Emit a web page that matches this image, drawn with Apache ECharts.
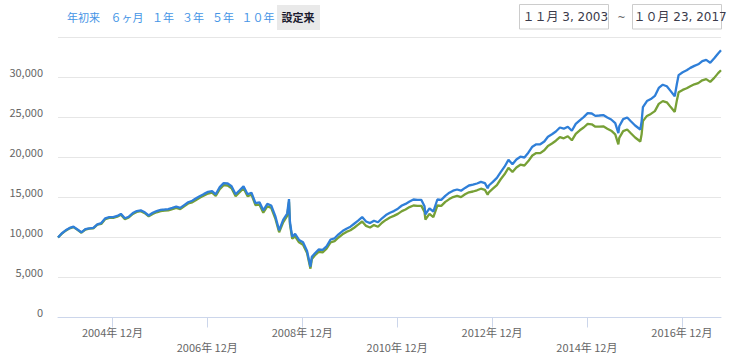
<!DOCTYPE html>
<html>
<head>
<meta charset="utf-8">
<script src="https://cdn.jsdelivr.net/npm/echarts@6/dist/echarts.min.js"></script>
<style>
html,body{margin:0;padding:0;background:#fff;}
#chart{width:735px;height:363px;}
</style>
</head>
<body>
<div id="chart"></div>
<script>
// ---- data ----
const dates = [
'2003-11-03','2003-12','2004-01','2004-02','2004-03','2004-04','2004-05','2004-06','2004-07','2004-08','2004-09','2004-10','2004-11','2004-12',
'2005-01','2005-02','2005-03','2005-04','2005-05','2005-06','2005-07','2005-08','2005-09','2005-10','2005-11','2005-12',
'2006-01','2006-02','2006-03','2006-04','2006-05','2006-06','2006-07','2006-08','2006-09','2006-10','2006-11','2006-12',
'2007-01','2007-02','2007-03','2007-04','2007-05','2007-06','2007-07','2007-08','2007-09','2007-10','2007-11','2007-12',
'2008-01','2008-02','2008-03','2008-04','2008-05','2008-06','2008-07','2008-08','2008-09','2008-09-15','2008-09-22','2008-10','2008-10-10','2008-11','2008-12',
'2009-01','2009-02','2009-02-27','2009-03-10','2009-04','2009-05','2009-06','2009-07','2009-08','2009-09','2009-10','2009-11','2009-12',
'2010-01','2010-02','2010-03','2010-04','2010-05','2010-06','2010-07','2010-08','2010-09','2010-10','2010-11','2010-12',
'2011-01','2011-02','2011-03','2011-04','2011-05','2011-06','2011-07','2011-07-25','2011-08','2011-09','2011-10','2011-11','2011-12',
'2012-01','2012-02','2012-03','2012-04','2012-05','2012-06','2012-07','2012-08','2012-09','2012-10','2012-11','2012-11-22','2012-12',
'2013-01','2013-02','2013-03','2013-04','2013-05','2013-06','2013-07','2013-08','2013-09','2013-10','2013-11','2013-12',
'2014-01','2014-02','2014-03','2014-04','2014-05','2014-06','2014-07','2014-08','2014-09','2014-10','2014-11','2014-12',
'2015-01','2015-02','2015-03','2015-04','2015-05','2015-06','2015-07','2015-08','2015-08-25','2015-09','2015-10','2015-11','2015-12',
'2016-01','2016-02-10','2016-02-20','2016-03','2016-04','2016-05','2016-06','2016-07','2016-08','2016-09','2016-10','2016-11','2016-11-18','2016-12',
'2017-01','2017-02','2017-03','2017-04','2017-05','2017-06','2017-07','2017-08','2017-09','2017-10','2017-10-23'
];
const fundValues = [
10000,10500,10900,11200,11350,11000,10650,11050,11150,11200,11650,11800,12400,12550,
12550,12700,12950,12400,12600,13050,13300,13400,13150,12750,13100,13300,
13450,13500,13550,13700,13850,13700,14050,14400,14600,14900,15200,15450,
15700,15800,15400,16300,16800,16750,16400,15400,15900,16400,15400,15600,
14300,14400,13400,14200,14000,12700,10900,12200,13000,14800,12000,11000,10100,10450,9700,
9400,8300,6350,7600,8000,8500,8450,8900,9750,9900,10400,10800,11100,
11350,11750,12100,12550,12000,11800,12100,11900,12400,12800,13100,13300,
13600,14000,14200,14500,14750,14700,14700,13900,12900,13650,13250,14750,14700,
15200,15600,15850,16000,15850,16200,16500,16600,16750,16950,16800,16150,16500,
16950,17450,18150,18850,19700,19150,19750,20100,20000,20600,21350,21650,
21650,22000,22600,22900,23250,23750,23600,23850,23350,24200,24650,25050,
25550,25500,25200,25250,25300,25000,24750,24300,23050,23900,24800,25000,24500,
24000,23500,24500,26300,27050,27300,27700,28700,29100,28900,28300,27650,29250,30300,
30650,30900,31200,31450,31650,32050,32200,31850,32400,33000,33400
];
const benchmarkValues = [
10000,10450,10850,11150,11300,10950,10600,11000,11100,11150,11600,11700,12300,12450,
12450,12600,12850,12300,12500,12950,13200,13300,13050,12650,12950,13150,
13300,13350,13400,13550,13700,13550,13900,14250,14400,14700,15000,15250,
15500,15600,15200,16050,16550,16500,16150,15150,15650,16150,15150,15350,
14050,14100,13100,13900,13700,12400,10650,11900,12700,14450,11700,10750,9850,10150,9400,
9100,8050,6100,7300,7750,8200,8150,8600,9400,9550,10000,10400,10700,
10900,11250,11600,12000,11450,11250,11550,11350,11850,12200,12500,12700,
12950,13300,13500,13800,14000,13950,13950,13200,12250,12950,12550,14000,13950,
14450,14800,15050,15200,15050,15400,15650,15750,15900,16100,15950,15350,15650,
16100,16550,17250,17900,18700,18200,18750,19100,19000,19550,20250,20550,
20550,20900,21450,21750,22100,22550,22400,22650,22150,22950,23400,23750,
24200,24150,23850,23850,23900,23600,23350,22900,21650,22450,23300,23500,23000,
22500,22000,22900,24550,25200,25450,25800,26700,27050,26900,26300,25700,27200,28150,
28450,28650,28900,29150,29300,29650,29800,29450,29950,30550,30900
];
const seriesNames = ['ベンチマーク', 'ファンド'];
const xTickYears = [2004, 2006, 2008, 2010, 2012, 2014, 2016];
const rangeButtons = ['年初来', '６ヶ月', '１年', '３年', '５年', '１０年', '設定来'];
const rangeFrom = '１１月 3, 2003';
const rangeTo = '１０月 23, 2017';

// ---- chart ----
const FONT = "'Noto Sans CJK JP', 'Noto Sans', sans-serif";
function toTime(s) {
  const p = s.split('-').map(Number);
  return +new Date(p[0], (p[1] || 1) - 1, p[2] || 1);
}
const tickValues = xTickYears.map(y => +new Date(y, 11, 26));
const chart = echarts.init(document.getElementById('chart'), null, {renderer: 'svg'});

function fmtNum(v) {
  return String(v).replace(/\B(?=(\d{3})+(?!\d))/g, ',');
}

const btnCenters = [83.5, 127, 163, 193, 223, 258, 298];
const graphics = [];
graphics.push({type: 'rect', shape: {x: 277, y: 5, width: 43, height: 25}, style: {fill: '#e9e9e9'}});
rangeButtons.forEach((t, i) => {
  const sel = i === rangeButtons.length - 1;
  graphics.push({
    type: 'text', x: btnCenters[i], y: 17,
    style: {text: t, fill: sel ? '#1a1a2e' : '#4595e6', font: (sel ? 'bold ' : '') + '11px ' + FONT,
      textAlign: 'center', textVerticalAlign: 'middle'}
  });
});
graphics.push({type: 'rect', shape: {x: 519.5, y: 4.5, width: 89, height: 24.5}, style: {fill: '#fff', stroke: '#cccccc', lineWidth: 1}});
graphics.push({type: 'rect', shape: {x: 632.5, y: 4.5, width: 89, height: 24.5}, style: {fill: '#fff', stroke: '#cccccc', lineWidth: 1}});
graphics.push({type: 'text', x: 522.5, y: 17, style: {text: rangeFrom, fill: '#3a3a4a', font: "12px 'DejaVu Sans', " + FONT, textVerticalAlign: 'middle'}});
graphics.push({type: 'text', x: 621.5, y: 17, style: {text: '~', fill: '#666', font: "10px 'DejaVu Sans', " + FONT, textAlign: 'center', textVerticalAlign: 'middle'}});
graphics.push({type: 'text', x: 633.5, y: 17, style: {text: rangeTo, fill: '#3a3a4a', font: "12px 'DejaVu Sans', " + FONT, textVerticalAlign: 'middle'}});

chart.setOption({
  animation: false,
  backgroundColor: '#fff',
  grid: {left: 58, right: 14, top: 37.5, bottom: 45.5, containLabel: false},
  xAxis: {
    type: 'value',
    min: toTime(dates[0]),
    max: toTime(dates[dates.length - 1]),
    axisLine: {show: true, onZero: false, lineStyle: {color: '#ccd6eb', width: 1}},
    axisTick: {show: true, customValues: tickValues, length: 10, lineStyle: {color: '#ccd6eb'}},
    splitLine: {show: false},
    axisLabel: {
      customValues: tickValues,
      showMinLabel: true, showMaxLabel: true,
      margin: 7,
      color: '#666666',
      fontSize: 11,
      fontFamily: FONT,
      lineHeight: 15,
      formatter: function (v) {
        const d = new Date(v);
        const y = d.getFullYear();
        const s = y + '年 ' + (d.getMonth() + 1) + '月';
        return ((y - 2004) % 4 === 2) ? '\n' + s : s;
      }
    }
  },
  yAxis: {
    type: 'value',
    min: 0, max: 35000, interval: 5000,
    axisLine: {show: false},
    axisTick: {show: false},
    splitLine: {show: true, lineStyle: {color: '#e6e6e6', width: 1}},
    axisLabel: {
      showMaxLabel: false,
      margin: 15,
      color: '#666666',
      fontSize: 11,
      fontFamily: FONT,
      verticalAlign: 'bottom',
      lineHeight: 12,
      formatter: function (v) { return v === 35000 ? '' : fmtNum(v); }
    }
  },
  series: [
    {
      name: seriesNames[0], type: 'line', showSymbol: false, symbol: 'none',
      data: dates.map((d, i) => [toTime(d), benchmarkValues[i]]),
      lineStyle: {color: '#77a036', width: 2.3}, itemStyle: {color: '#77a036'}, z: 2
    },
    {
      name: seriesNames[1], type: 'line', showSymbol: false, symbol: 'none',
      data: dates.map((d, i) => [toTime(d), fundValues[i]]),
      lineStyle: {color: '#2f7fd8', width: 2.3}, itemStyle: {color: '#2f7fd8'}, z: 3
    }
  ],
  graphic: graphics
});
</script>
</body>
</html>
